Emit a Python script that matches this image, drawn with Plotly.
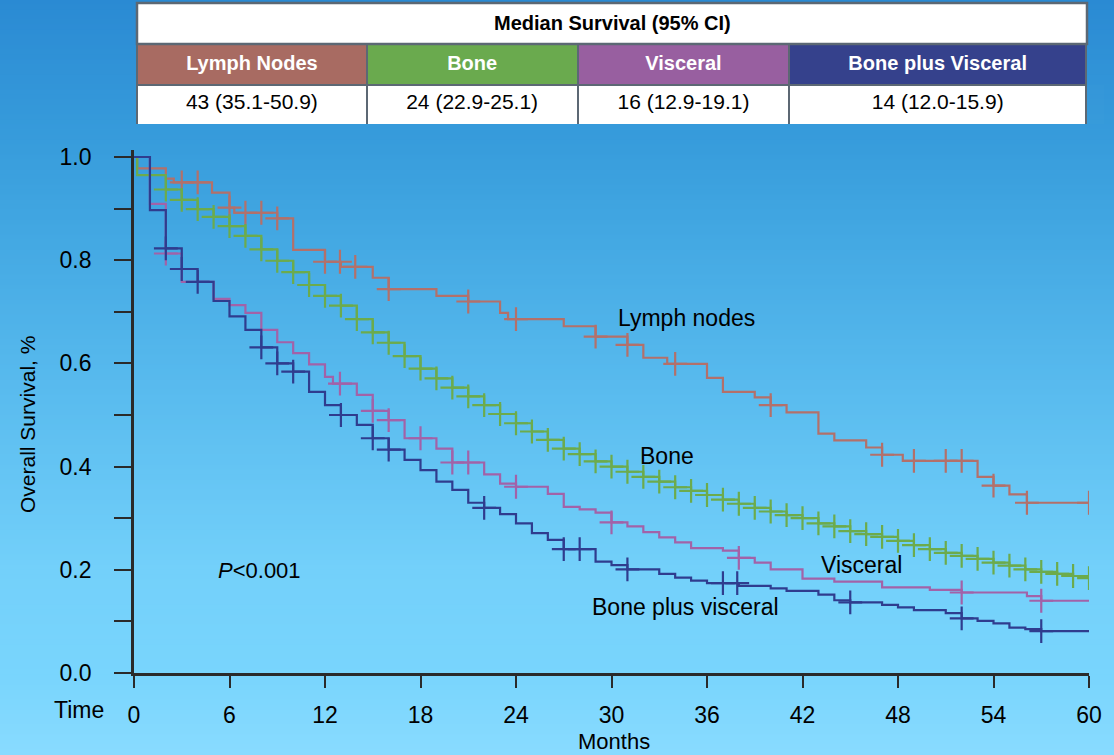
import numpy as np
import plotly.graph_objects as go

W, H = 1114, 755

# ---------------- data ----------------
groups = ["Lymph Nodes", "Bone", "Visceral", "Bone plus Visceral"]
medians = ["43 (35.1-50.9)", "24 (22.9-25.1)", "16 (12.9-19.1)", "14 (12.0-15.9)"]
table_title = "Median Survival (95% CI)"

lymph_t = [0.2, 2.0, 2.5, 4.9, 6.0, 6.3, 9.0, 10.0, 12.0, 13.0, 15.0, 16.0, 19.0, 21.0, 23.0,
           23.5, 27.0, 29.0, 31.0, 32.0, 33.5, 36.0, 37.0, 39.0, 40.0, 41.0, 43.0, 44.0, 46.0,
           47.0, 48.3, 53.0, 54.0, 55.0, 56.1]
lymph_s = [0.978, 0.958, 0.951, 0.931, 0.902, 0.892, 0.881, 0.820, 0.797, 0.787, 0.766, 0.744,
           0.731, 0.720, 0.698, 0.686, 0.672, 0.652, 0.636, 0.611, 0.599, 0.572, 0.545, 0.534,
           0.519, 0.505, 0.464, 0.451, 0.437, 0.423, 0.411, 0.380, 0.363, 0.346, 0.330]
lymph_c = [3, 4, 6, 7, 8, 9, 12, 12.94, 13.9, 16, 21, 24, 29, 31, 34, 40, 47, 49, 51, 52, 54,
           56.1, 60]

bone_t = [0.2] + list(range(2, 61))
bone_s = [0.965, 0.937, 0.917, 0.899, 0.884, 0.866, 0.847, 0.821, 0.799, 0.777, 0.752, 0.731,
          0.712, 0.686, 0.660, 0.640, 0.614, 0.590, 0.571, 0.553, 0.536, 0.519, 0.502, 0.484,
          0.468, 0.452, 0.435, 0.424, 0.410, 0.400, 0.390, 0.380, 0.371, 0.360, 0.353, 0.345,
          0.336, 0.328, 0.320, 0.313, 0.306, 0.300, 0.290, 0.284, 0.275, 0.269, 0.264, 0.256,
          0.248, 0.240, 0.233, 0.227, 0.221, 0.214, 0.208, 0.201, 0.196, 0.192, 0.188, 0.184]
bone_c = list(range(2, 61))

visc_t = [1.0, 2.0, 3.0, 5.0, 6.0, 7.0, 8.0, 9.0, 10.0, 11.0, 12.0, 12.5, 14.0, 15.0, 16.0,
          17.0, 19.0, 20.0, 22.0, 23.0, 24.0, 26.0, 27.0, 28.0, 29.0, 30.0, 31.0, 32.0, 33.0,
          34.0, 35.0, 37.0, 38.0, 39.0, 40.0, 42.0, 44.0, 47.0, 50.0, 52.0, 56.1, 57.0]
visc_s = [0.909, 0.813, 0.758, 0.725, 0.713, 0.698, 0.665, 0.641, 0.620, 0.598, 0.574, 0.561,
          0.539, 0.508, 0.490, 0.455, 0.435, 0.408, 0.385, 0.367, 0.361, 0.347, 0.322, 0.317,
          0.311, 0.292, 0.284, 0.273, 0.263, 0.253, 0.242, 0.237, 0.223, 0.214, 0.201, 0.183,
          0.177, 0.166, 0.161, 0.156, 0.149, 0.140]
visc_c = [2, 12.94, 15, 16, 18, 20, 21, 24, 30, 38, 52, 57]

bpv_t = [1.0, 2.0, 3.0, 4.0, 5.0, 6.0, 7.0, 8.0, 9.0, 10.0, 11.0, 12.0, 13.0, 14.0, 15.0, 16.0,
         17.0, 18.0, 19.0, 20.0, 21.0, 22.0, 23.0, 24.0, 25.0, 26.0, 27.0, 29.0, 30.0, 31.0,
         33.0, 34.0, 35.0, 36.0, 38.0, 40.0, 41.0, 43.0, 44.0, 45.0, 47.0, 48.0, 49.0, 51.0,
         52.0, 53.0, 54.0, 55.0, 56.0, 57.0]
bpv_s = [0.897, 0.823, 0.783, 0.758, 0.721, 0.691, 0.665, 0.631, 0.600, 0.584, 0.545, 0.519,
         0.500, 0.481, 0.455, 0.433, 0.413, 0.393, 0.371, 0.355, 0.330, 0.320, 0.308, 0.290,
         0.271, 0.258, 0.240, 0.216, 0.209, 0.201, 0.192, 0.185, 0.179, 0.174, 0.169, 0.164,
         0.159, 0.152, 0.141, 0.137, 0.132, 0.127, 0.122, 0.116, 0.106, 0.101, 0.096, 0.088,
         0.085, 0.081]
bpv_c = [2, 3, 4, 8, 9, 10, 13, 15, 16, 22, 27, 28, 31, 37, 37.9, 45, 52, 57]

x_ticks = list(range(0, 61, 6))
y_ticks = [round(0.1 * i, 1) for i in range(11)]
y_ticktext = [f"{v:.1f}" if i % 2 == 0 else "" for i, v in enumerate(y_ticks)]

curve_labels = ["Lymph nodes", "Bone", "Visceral", "Bone plus visceral"]

# ---------------- style ----------------
line_colors = ["#b3706a", "#6cab4c", "#a262a8", "#2f3c8e"]
header_colors = ["#a86b62", "#6aaa4e", "#985fa0", "#35418c"]
FONT = "Liberation Sans, Arial, sans-serif"
AX = "#2a2a2a"

X_END = 60
series = [(lymph_t, lymph_s, lymph_c), (bone_t, bone_s, bone_c),
          (visc_t, visc_s, visc_c), (bpv_t, bpv_s, bpv_c)]

fig = go.Figure()
for (t, s, c), col, name in zip(series, line_colors, curve_labels):
    xs = [0.0] + list(t) + [X_END]
    ys = [1.0] + list(s) + [s[-1]]
    fig.add_trace(go.Scatter(x=xs, y=ys, mode="lines", line=dict(color=col, width=2.2, shape="hv"),
                             name=name, showlegend=False, hoverinfo="skip"))
    tt = np.array([0.0] + list(t))
    ss = np.array([1.0] + list(s))
    idx = np.searchsorted(tt, np.array(c, dtype=float), side="right") - 1
    fig.add_trace(go.Scatter(x=c, y=ss[idx], mode="markers",
                             marker=dict(symbol="cross-thin", size=17, color=col,
                                         line=dict(width=2.2, color=col)),
                             showlegend=False, hoverinfo="skip"))

# table (header = group names, cells = medians)
tx0, tx1 = 137 / W, 1087 / W
fig.add_trace(go.Table(
    domain=dict(x=[tx0, tx1], y=[(H - 125) / H, (H - 44) / H]),
    columnwidth=[230, 211, 212, 297],
    header=dict(values=[f"<b>{g}</b>" for g in groups], fill_color=header_colors,
                font=dict(family=FONT, size=20, color="white"), height=41,
                line=dict(color="#5c6874", width=2), align="center"),
    cells=dict(values=[[m] for m in medians], fill_color="white",
               font=dict(family=FONT, size=21, color="black"), height=40,
               line=dict(color="#5c6874", width=2), align="center"),
))

# background gradient
stops_y = [0, 150, 230, 400, 570, 680, 755]
stops_c = [(42, 138, 211), (56, 157, 220), (66, 167, 226), (90, 188, 239), (115, 208, 250),
           (121, 213, 253), (137, 219, 255)]
shapes = []
step = 5
for y0 in range(0, H, step):
    ym = y0 + step / 2
    rgb = [int(round(np.interp(ym, stops_y, [c[k] for c in stops_c]))) for k in range(3)]
    shapes.append(dict(type="rect", xref="paper", yref="paper", x0=0, x1=1,
                       y0=(H - y0 - step) / H, y1=(H - y0) / H + 0.0005,
                       fillcolor=f"rgb({rgb[0]},{rgb[1]},{rgb[2]})", line=dict(width=0),
                       layer="below"))
# table title row
shapes.append(dict(type="rect", xref="paper", yref="paper", x0=tx0, x1=tx1,
                   y0=(H - 44) / H, y1=(H - 3) / H, fillcolor="white",
                   line=dict(color="#5c6874", width=2.5), layer="above"))

annotations = [
    dict(text=f"<b>{table_title}</b>", xref="paper", yref="paper", x=(tx0 + tx1) / 2,
         y=(H - 23) / H, showarrow=False, font=dict(family=FONT, size=20, color="black"),
         xanchor="center", yanchor="middle"),
    dict(text="Time", xref="paper", yref="paper", x=79 / W, y=(H - 710) / H, showarrow=False,
         font=dict(family=FONT, size=23, color="black"), xanchor="center", yanchor="middle"),
    dict(text="Months", xref="paper", yref="paper", x=614 / W, y=(H - 741) / H, showarrow=False,
         font=dict(family=FONT, size=22, color="black"), xanchor="center", yanchor="middle"),
    dict(text="Overall Survival, %", xref="paper", yref="paper", x=27 / W, y=(H - 425) / H,
         showarrow=False, textangle=-90,
         font=dict(family=FONT, size=21, color="black"),
         xanchor="center", yanchor="middle"),
    dict(text="<i>P</i>&lt;0.001", x=7.9, y=0.198, xref="x", yref="y", showarrow=False,
         font=dict(family=FONT, size=22, color="black"), xanchor="center", yanchor="middle"),
]
label_pos = [(34.74, 0.688), (33.48, 0.4205), (45.73, 0.209), (34.67, 0.128)]
for name, (lx, ly) in zip(curve_labels, label_pos):
    annotations.append(dict(text=name, x=lx, y=ly, xref="x", yref="y", showarrow=False,
                            font=dict(family=FONT, size=23, color="black"),
                            xanchor="center", yanchor="middle"))

fig.update_layout(
    width=W, height=H, autosize=False,
    margin=dict(l=0, r=0, t=0, b=0),
    paper_bgcolor="rgb(90,188,239)", plot_bgcolor="rgba(0,0,0,0)",
    shapes=shapes, annotations=annotations, showlegend=False,
    xaxis=dict(domain=[134 / W, 1089 / W], range=[0, 60], tickvals=x_ticks,
               ticks="outside", ticklen=12, tickwidth=2, tickcolor=AX,
               showline=True, linewidth=2.8, linecolor=AX, showgrid=False, zeroline=False,
               tickfont=dict(family=FONT, size=23, color="black"), automargin=False,
               ticklabelstandoff=7),
    yaxis=dict(domain=[(H - 673) / H, (H - 150) / H], range=[0, 1.0136], tickvals=y_ticks,
               ticktext=y_ticktext, ticks="outside", ticklen=17, tickwidth=2, tickcolor=AX,
               showline=True, linewidth=2.8, linecolor=AX, showgrid=False, zeroline=False,
               tickfont=dict(family=FONT, size=23, color="black"), automargin=False,
               ticklabelstandoff=18),
)

fig.write_html("out.html", config={"displayModeBar": False},
               post_script="document.body.style.margin='0px';document.body.style.overflow='hidden';")
